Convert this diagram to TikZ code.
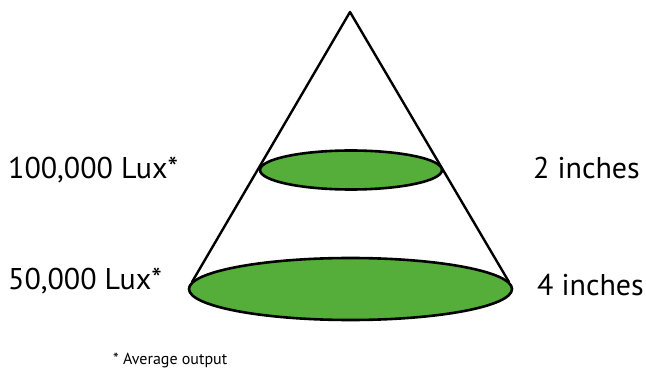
\documentclass[tikz,border=0pt]{standalone}
\usepackage{fontspec}
\setmainfont{PT Sans}
\usetikzlibrary{shapes.geometric}
\definecolor{spotgreen}{RGB}{85,174,58}
\tikzset{
  spot/.style = {ellipse, draw, line width=2.6pt, fill=spotgreen, inner sep=0pt},
  label/.style = {font=\fontsize{30}{34}\selectfont, anchor=west, inner sep=0pt},
  cone/.style = {line width=2.4pt, line cap=round},
}

\begin{document}
\begin{tikzpicture}[x=1pt, y=-1pt]

    \useasboundingbox (0,0) rectangle (646,377);

    % Nodes
    \coordinate (apex) at (350,12);
    \coordinate (coneL) at (192,282);
    \coordinate (coneR) at (509,282);

    \node (small) [spot, minimum width=182pt, minimum height=39pt] at (351,170) {};

    % Cone
    \draw [cone] (apex) -- (coneL);
    \draw [cone] (apex) -- (coneR);

    \node (big) [spot, minimum width=323pt, minimum height=62pt] at (350.5,289) {};

    \node (lux1) [label] at (8,170) {100,000 Lux*};
    \node (lux2) [label] at (8,281) {50,000 Lux*};
    \node (in2) [label] at (533,168) {2 inches};
    \node (in4) [label] at (537,285) {4 inches};

    \node (note) [font=\fontsize{16}{19}\selectfont, anchor=west, inner sep=0pt] at (113,360) {* Average output};

\end{tikzpicture}
\end{document}
